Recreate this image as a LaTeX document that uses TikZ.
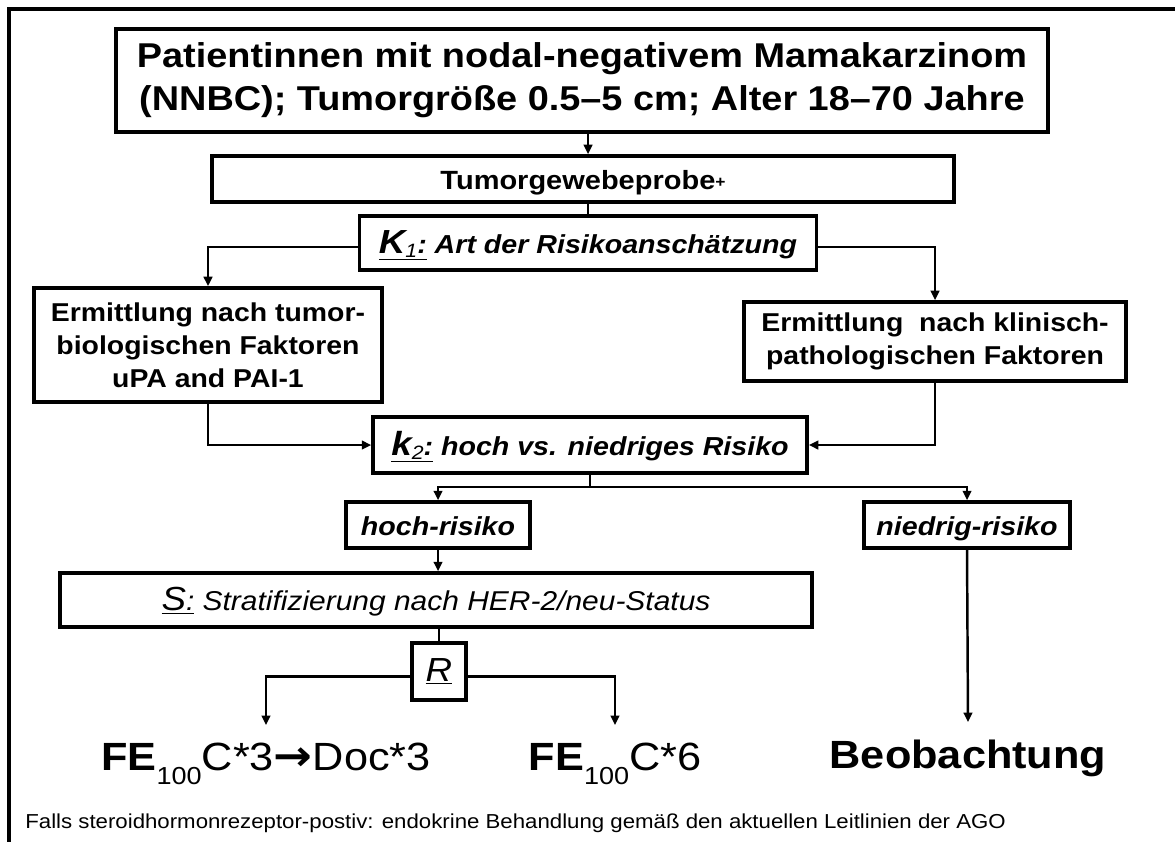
\documentclass[tikz,border=0pt]{standalone}
\usepackage{fontspec}
\setmainfont{Liberation Sans}[FakeStretch=1.1]
\newfontfamily\arrowfont{DejaVu Sans}[FakeStretch=1.1]
\usetikzlibrary{arrows.meta}
\newlength\px
\setlength\px{0.02cm}
\newcommand{\klab}[2]{\underline{{\fontsize{19}{19}\selectfont #1}\raisebox{-2pt}{\fontsize{11}{11}\selectfont\mdseries #2}:}}
\newcommand{\lowsub}[1]{\raisebox{-8pt}{\fontsize{14}{14}\selectfont\mdseries #1}}

\begin{document}
\begin{tikzpicture}[x=0.02cm,y=-0.02cm,
    box/.style={draw,line width=2pt,inner sep=0pt,align=center},
    one/.style={box,text height=14pt,text depth=2pt},
    conn/.style={line width=1.4pt},
    arr/.style={conn,-{Triangle[length=0.19cm,width=0.17cm]}},
    big/.style={anchor=base,inner xsep=0pt,inner ysep=17\px,font=\fontsize{22.4}{26}\selectfont}]
\useasboundingbox (0,0) rectangle (1175,841);
\draw[line width=2pt] (9,9) rectangle (1200,870);

% boxes
\node[box,minimum width=932\px,minimum height=103\px,font=\fontsize{19.6}{24.4}\selectfont\bfseries] (title) at (582,80.5)
    {Patientinnen mit nodal-negativem Mamakarzinom\\(NNBC); Tumorgröße 0.5–5 cm; Alter 18–70 Jahre};
\node[one,minimum width=742\px,minimum height=46\px,font=\fontsize{15}{18}\selectfont\bfseries] (probe) at (583,179)
    {Tumorgewebeprobe\raisebox{1pt}{\fontsize{9}{9}\selectfont +}};
\node[one,minimum width=457\px,minimum height=54\px,font=\fontsize{14.8}{18}\selectfont\bfseries\itshape] (kA) at (588,243)
    {\klab{K}{1} Art der Risikoanschätzung};
\node[box,minimum width=348\px,minimum height=114\px,font=\fontsize{14.7}{18.7}\selectfont\bfseries] (tb) at (208,345)
    {Ermittlung nach tumor-\\biologischen Faktoren\\uPA and PAI-1};
\node[box,minimum width=382\px,minimum height=79\px,font=\fontsize{14.7}{18.7}\selectfont\bfseries] (kp) at (935,341.5)
    {Ermittlung\ \ nach klinisch-\\pathologischen Faktoren};
\node[one,minimum width=434\px,minimum height=56\px,font=\fontsize{14.8}{18}\selectfont\bfseries\itshape] (kB) at (590,445)
    {\klab{k}{2} hoch vs. niedriges Risiko};
\node[one,minimum width=184\px,minimum height=46\px,font=\fontsize{14.8}{18}\selectfont\bfseries\itshape] (hoch) at (438,525)
    {hoch-risiko};
\node[one,minimum width=206\px,minimum height=46\px,font=\fontsize{14.8}{18}\selectfont\bfseries\itshape] (niedrig) at (967,525)
    {niedrig-risiko};
\node[one,minimum width=752\px,minimum height=54\px,font=\fontsize{15.5}{18}\selectfont\itshape] (strat) at (436,600)
    {\underline{{\fontsize{19}{19}\selectfont S}:} Stratifizierung nach HER-2/neu-Status};
\node[box,minimum width=54\px,minimum height=57\px,font=\fontsize{19}{19}\selectfont\itshape] (rand) at (439,671.5)
    {\underline{R}};

% results
\node[big] (feA) at (266,770) {\textbf{FE}\lowsub{100}C*3{\arrowfont\bfseries\fontsize{24}{26}\selectfont →}Doc*3};
\node[big] (feB) at (615,770) {\textbf{FE}\lowsub{100}C*6};
\node[big,font=\fontsize{22.4}{26}\selectfont\bfseries] (beob) at (968,768) {Beobachtung};
\node[anchor=base west,inner sep=0pt,font=\fontsize{11.5}{14}\selectfont] (note) at (25,828)
    {Falls steroidhormonrezeptor-postiv: endokrine Behandlung gemäß den aktuellen Leitlinien der AGO};

% connectors
\draw[arr] (title.south -| kA.north) -- (probe.north -| kA.north);
\draw[conn] (probe.south -| kA.north) -- (kA.north);
\draw[arr] ([yshift=-4\px]kA.west) -| (tb.north);
\draw[arr] ([yshift=-4\px]kA.east) -| (kp.north);
\draw[arr] (tb.south) |- (kB.west);
\draw[arr] (kp.south) |- (kB.east);
\coordinate (split) at (590,487);
\draw[conn] (kB.south) -- (split);
\draw[arr] (split) -| (hoch.north);
\draw[arr] (split) -| (niedrig.north);
\draw[arr] (hoch.south) -- (hoch.south |- strat.north);
\draw[conn] (rand.north |- strat.south) -- (rand.north);
\draw[arr] ([yshift=-5\px]rand.west) -| (feA.north);
\draw[arr] ([yshift=-5\px]rand.east) -| (feB.north);
\draw[arr] (niedrig.south) -- (beob.north);
\end{tikzpicture}
\end{document}
